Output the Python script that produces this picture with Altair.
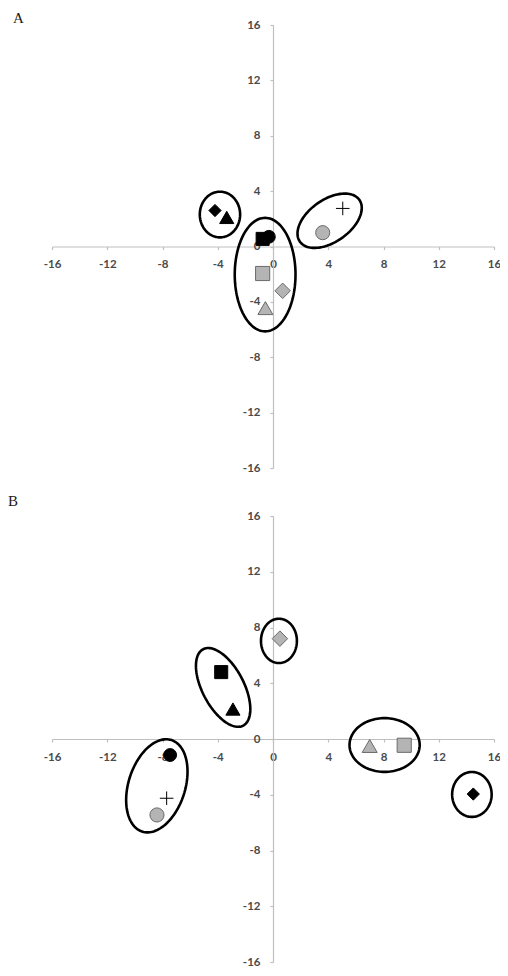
import altair as alt
import numpy as np
import pandas as pd

# ---------------- data ----------------
TICKS = [-16, -12, -8, -4, 0, 4, 8, 12, 16]

a_kind = ["black diamond", "black triangle", "black square", "black circle",
          "gray square", "gray diamond", "gray triangle", "gray circle", "cross"]
a_x = [-4.2, -3.35, -0.75, -0.3, -0.75, 0.7, -0.55, 3.6, 5.05]
a_y = [2.6, 2.1, 0.55, 0.7, -1.95, -3.2, -4.45, 1.0, 2.75]

b_kind = ["gray diamond", "black square", "black triangle", "gray triangle",
          "gray square", "black circle", "cross", "gray circle", "black diamond"]
b_x = [0.5, -3.75, -2.9, 7.0, 9.5, -7.45, -7.7, -8.4, 14.5]
b_y = [7.2, 4.8, 2.15, -0.5, -0.45, -1.15, -4.25, -5.45, -3.95]

# grouping ellipses: centre, semi-axes, rotation (degrees)
a_ell_cx = [-3.84, -0.57, 4.1]
a_ell_cy = [2.31, -2.03, 1.86]
a_ell_rx = [1.46, 2.2, 2.63]
a_ell_ry = [1.65, 4.1, 1.53]
a_ell_rot = [0, 0, 35]

b_ell_cx = [0.43, -3.61, 8.08, 14.4, -8.41]
b_ell_cy = [7.04, 3.7, -0.43, -3.98, -3.36]
b_ell_rx = [1.3, 3.1, 2.54, 1.43, 3.45]
b_ell_ry = [1.59, 1.5, 1.93, 1.61, 2.05]
b_ell_rot = [0, -62, 0, 0, 72]

# ---------------- styles ----------------
GRAY_FILL = "#b4b4b4"
GRAY_STROKE = "#6a6a6a"
STYLE = {
    "black diamond": ("diamond", "#000000", "#000000", 150),
    "black triangle": ("triangle-up", "#000000", "#000000", 200),
    "black square": ("square", "#000000", "#000000", 170),
    "black circle": ("circle", "#000000", "#000000", 165),
    "gray square": ("square", GRAY_FILL, GRAY_STROKE, 200),
    "gray diamond": ("diamond", GRAY_FILL, GRAY_STROKE, 240),
    "gray triangle": ("triangle-up", GRAY_FILL, GRAY_STROKE, 225),
    "gray circle": ("circle", GRAY_FILL, GRAY_STROKE, 200),
    "cross": ("M-1,0L1,0M0,-1L0,1", "transparent", "#000000", 185),
}

W = 442
HA = 443
HB = 446


def points_df(kinds, xs, ys):
    rows = []
    for k, x, y in zip(kinds, xs, ys):
        shp, fill, stroke, size = STYLE[k]
        rows.append(dict(kind=k, x=x, y=y, shape=shp, fill=fill, stroke=stroke, size=size))
    return pd.DataFrame(rows)


def ellipse_df(cx, cy, rx, ry, rot):
    rows = []
    t = np.linspace(0, 2 * np.pi, 120, endpoint=False)
    for i, (x0, y0, a, b, r) in enumerate(zip(cx, cy, rx, ry, rot)):
        th = np.deg2rad(r)
        xs = x0 + a * np.cos(t) * np.cos(th) - b * np.sin(t) * np.sin(th)
        ys = y0 + a * np.cos(t) * np.sin(th) + b * np.sin(t) * np.cos(th)
        for j, (xx, yy) in enumerate(zip(xs, ys)):
            rows.append(dict(eid=i, i=j, x=xx, y=yy))
    return pd.DataFrame(rows)


LABEL_EXPR = "'' + datum.value"


def panel(letter, kinds, xs, ys, ecx, ecy, erx, ery, erot, h, lx, ly):
    xscale = alt.Scale(domain=[-16, 16], nice=False, zero=False)
    yscale = alt.Scale(domain=[-16, 16], nice=False, zero=False)
    xaxis = alt.Axis(values=TICKS, offset=-h / 2, title=None, grid=False,
                     labelPadding=9, tickSize=3, labelFlush=False,
                     labelOverlap=False, labelExpr=LABEL_EXPR)
    yaxis = alt.Axis(values=TICKS, offset=-W / 2, title=None, grid=False,
                     labelPadding=10, tickSize=3, labelFlush=False,
                     labelOverlap=False, labelExpr=LABEL_EXPR)

    pts = alt.Chart(points_df(kinds, xs, ys)).mark_point(
        filled=True, opacity=1, strokeWidth=1
    ).encode(
        x=alt.X("x:Q", scale=xscale, axis=xaxis),
        y=alt.Y("y:Q", scale=yscale, axis=yaxis),
        shape=alt.Shape("shape:N", scale=None),
        fill=alt.Fill("fill:N", scale=None),
        stroke=alt.Stroke("stroke:N", scale=None),
        size=alt.Size("size:Q", scale=None),
    )

    ell = alt.Chart(ellipse_df(ecx, ecy, erx, ery, erot)).mark_line(
        interpolate="linear-closed", color="#000000", strokeWidth=2.6
    ).encode(
        x=alt.X("x:Q", scale=xscale),
        y=alt.Y("y:Q", scale=yscale),
        detail="eid:N",
        order="i:Q",
    )

    lab = alt.Chart(pd.DataFrame({"t": [letter]})).mark_text(
        align="left", baseline="top", font="Liberation Serif", fontSize=15,
        color="#1a1a1a"
    ).encode(text="t:N", x=alt.value(lx), y=alt.value(ly))

    return alt.layer(ell, pts, lab).properties(width=W, height=h)


top = panel("A", a_kind, a_x, a_y, a_ell_cx, a_ell_cy, a_ell_rx, a_ell_ry, a_ell_rot,
            HA, -39, -14)
bottom = panel("B", b_kind, b_x, b_y, b_ell_cx, b_ell_cy, b_ell_rx, b_ell_ry, b_ell_rot,
               HB, -44, -22)

chart = alt.vconcat(top, bottom, spacing=20).properties(
    padding={"left": 0, "top": 3, "right": -1, "bottom": -2}
).configure_view(stroke=None).configure_axis(
    domainColor="#bfbfbf", tickColor="#bfbfbf", domainWidth=1.2, tickWidth=1.2,
    labelFont="Lato", labelFontSize=11.5, labelFontWeight="bold", labelColor="#4a4a4a",
)

chart.save("out.html", embed_options={"renderer": "svg", "actions": False})
